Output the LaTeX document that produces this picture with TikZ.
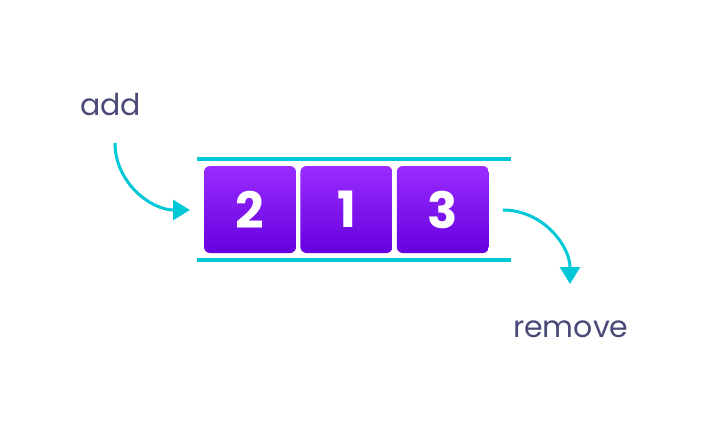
\documentclass[tikz,border=0pt]{standalone}
\usepackage{fontspec}
\setmainfont{Poppins}
\usetikzlibrary{positioning,arrows.meta}
\definecolor{qline}{RGB}{0,200,214}
\definecolor{qtext}{RGB}{74,74,120}
\definecolor{qtop}{RGB}{153,44,255}
\definecolor{qbot}{RGB}{102,0,222}
\begin{document}
\begin{tikzpicture}[x=1pt,y=-1pt]
    \tikzstyle{box} = [rectangle, rounded corners=6pt, minimum width=92pt, minimum height=87pt, inner sep=0pt, text centered, top color=qtop, bottom color=qbot, text=white, font=\fontsize{50}{50}\selectfont\bfseries]
    \tikzstyle{label} = [text=qtext, font=\fontsize{30}{30}\selectfont, inner sep=0pt]
    \tikzstyle{rail} = [qline, line width=4pt]
    \tikzstyle{flow} = [qline, line width=3pt, -{Triangle[width=20pt,length=17pt]}]

    \useasboundingbox (0,0) rectangle (706,428);

    \node [box] (q1) at (250,209.5) {2};
    \node [box, right=4pt of q1] (q2) {1};
    \node [box, right=4pt of q2] (q3) {3};

    \coordinate (railTL) at (197,159);
    \coordinate (railTR) at (511,159);
    \coordinate (railBL) at (197,260);
    \coordinate (railBR) at (511,260);
    \draw [rail] (railTL) -- (railTR);
    \draw [rail] (railBL) -- (railBR);

    \node [label, anchor=base west] (add) at (80,115) {add};
    \node [label, anchor=base west] (remove) at (513,337) {remove};

    % in and out arrows
    \coordinate (addstart) at (115,143);
    \coordinate (addend) at (190,210);
    \coordinate (remstart) at (503,210);
    \coordinate (remend) at (570,284);
    \draw [flow] (addstart) to[out=-90,in=180] (addend);
    \draw [flow] (remstart) to[out=0,in=90] (remend);
\end{tikzpicture}
\end{document}
